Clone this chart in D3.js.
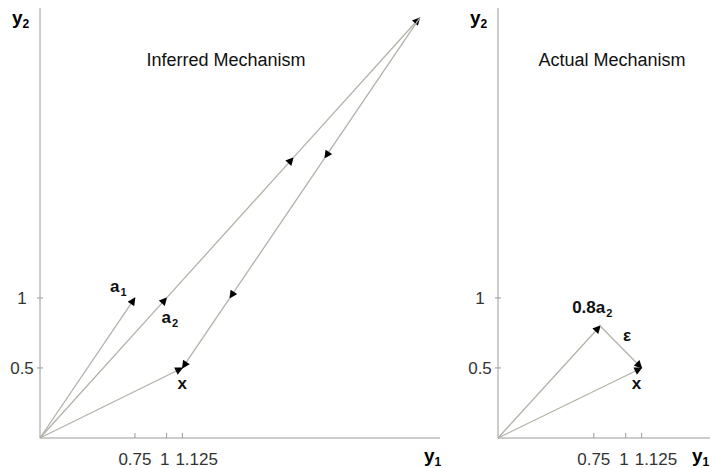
<!DOCTYPE html>
<html>
<head>
<meta charset="utf-8">
<script src="https://cdn.jsdelivr.net/npm/d3@7"></script>
<style>
  body { margin: 0; background: #fff; }
  svg { display: block; font-family: "Liberation Sans", Arial, sans-serif; }
</style>
</head>
<body>
<div id="chart"></div>
<script>
// axis ticks
const xTicks = [0.75, 1, 1.125];
const xTickLabels = ["0.75", "1", "1.125"];
const yTicks = [0.5, 1];
const yTickLabels = ["0.5", "1"];

// vectors
const a1 = [0.75, 1];
const a2 = [1, 1];
const xVec = [1.125, 0.5];
const a2Scaled = [0.8, 0.8];

// inferred: x = 3 a2 - 2.5 a1, walked step by step
const inferredRays = [a1, a2, xVec];
const inferredWalk = [[1, 1], [2, 2], [3, 3], [2.25, 2], [1.5, 1], [1.125, 0.5]];

// actual: x = 0.8 a2 + eps
const actualRays = [a2Scaled, xVec];
const actualWalk = [[0.8, 0.8], [1.125, 0.5]];

const width = 710, height = 468;
const lineColor = "#b3b1a8";
const axisColor = "#9a9a9a";

const svg = d3.select("#chart").append("svg")
  .attr("width", width)
  .attr("height", height);

svg.append("defs").append("marker")
  .attr("id", "head")
  .attr("markerUnits", "userSpaceOnUse")
  .attr("viewBox", "0 0 10 10")
  .attr("refX", 9)
  .attr("refY", 5)
  .attr("markerWidth", 9)
  .attr("markerHeight", 8)
  .attr("orient", "auto")
  .append("path")
  .attr("d", "M0,0L10,5L0,10z")
  .attr("fill", "#000");

const panel = (opts) => {
  const x = d3.scaleLinear().domain([0, opts.xMax]).range([opts.left, opts.right]);
  const y = d3.scaleLinear().domain([0, 3.07]).range([438, 8]);
  const g = svg.append("g");

  // axes
  g.append("line")
    .attr("x1", x(0)).attr("x2", opts.right)
    .attr("y1", y(0)).attr("y2", y(0))
    .attr("stroke", axisColor);
  g.append("line")
    .attr("x1", x(0)).attr("x2", x(0))
    .attr("y1", y(0)).attr("y2", 8)
    .attr("stroke", axisColor);

  g.selectAll(".xt").data(xTicks).join("line")
    .attr("x1", d => x(d)).attr("x2", d => x(d))
    .attr("y1", y(0) - 5).attr("y2", y(0))
    .attr("stroke", axisColor);
  g.selectAll(".xl").data(xTickLabels).join("text")
    .attr("x", (d, i) => x(xTicks[i]))
    .attr("y", 465)
    .attr("text-anchor", (d, i) => i == 1 ? "end" : (i == 2 ? "start" : "middle"))
    .attr("dx", (d, i) => i == 1 ? 3 : (i == 2 ? -7 : 0))
    .attr("font-size", 17)
    .attr("fill", "#333")
    .text(d => d);

  g.selectAll(".yt").data(yTicks).join("line")
    .attr("x1", x(0) - 3).attr("x2", x(0) + 3)
    .attr("y1", d => y(d)).attr("y2", d => y(d))
    .attr("stroke", axisColor);
  g.selectAll(".yl").data(yTickLabels).join("text")
    .attr("x", x(0) - 18)
    .attr("y", (d, i) => y(yTicks[i]) + 6)
    .attr("text-anchor", "middle")
    .attr("font-size", 17)
    .attr("fill", "#333")
    .text(d => d);

  // axis names
  const y2 = g.append("text")
    .attr("x", x(0) - 28).attr("y", 24)
    .attr("font-size", 19).attr("font-weight", "bold");
  y2.append("tspan").text("y");
  y2.append("tspan").attr("font-size", 12).attr("dy", 4).text("2");

  const y1 = g.append("text")
    .attr("x", opts.y1x).attr("y", 462)
    .attr("font-size", 19).attr("font-weight", "bold");
  y1.append("tspan").text("y");
  y1.append("tspan").attr("font-size", 12).attr("dy", 4).text("1");

  g.append("text")
    .attr("x", opts.titleX).attr("y", 66)
    .attr("text-anchor", "middle")
    .attr("font-size", 18)
    .attr("fill", "#111")
    .text(opts.title);

  // rays from origin
  g.selectAll(".ray").data(opts.rays).join("line")
    .attr("x1", x(0)).attr("y1", y(0))
    .attr("x2", d => x(d[0])).attr("y2", d => y(d[1]))
    .attr("stroke", lineColor)
    .attr("stroke-width", 1.3)
    .attr("marker-end", "url(#head)");

  // walk segments
  const segs = d3.pairs(opts.walk);
  g.selectAll(".seg").data(segs).join("line")
    .attr("x1", d => x(d[0][0])).attr("y1", d => y(d[0][1]))
    .attr("x2", d => x(d[1][0])).attr("y2", d => y(d[1][1]))
    .attr("stroke", lineColor)
    .attr("stroke-width", 1.3)
    .attr("marker-end", "url(#head)");

  return { x, y, g };
};

const left = panel({
  left: 40, right: 440, xMax: 3.16, title: "Inferred Mechanism", titleX: 226,
  y1x: 424, rays: inferredRays, walk: inferredWalk
});
const right = panel({
  left: 498, right: 710, xMax: 1.66, title: "Actual Mechanism", titleX: 612,
  y1x: 692, rays: actualRays, walk: actualWalk
});

const label = (p, pos, dx, dy, main, sub) => {
  const t = p.g.append("text")
    .attr("x", p.x(pos[0]) + dx).attr("y", p.y(pos[1]) + dy)
    .attr("font-size", 17).attr("font-weight", "bold")
    .attr("fill", "#111");
  t.append("tspan").text(main);
  if (sub) t.append("tspan").attr("font-size", 11).attr("dy", 4).attr("dx", 1).text(sub);
};

label(left, a1, -25, -6, "a", "1");
label(left, a2, -5, 25, "a", "2");
label(left, xVec, -5, 21, "x");
label(right, a2Scaled, -28, -13, "0.8a", "2");
label(right, [0.97, 0.65], 1, -6, "\u03b5");
label(right, xVec, -10, 21, "x");
</script>
</body>
</html>
